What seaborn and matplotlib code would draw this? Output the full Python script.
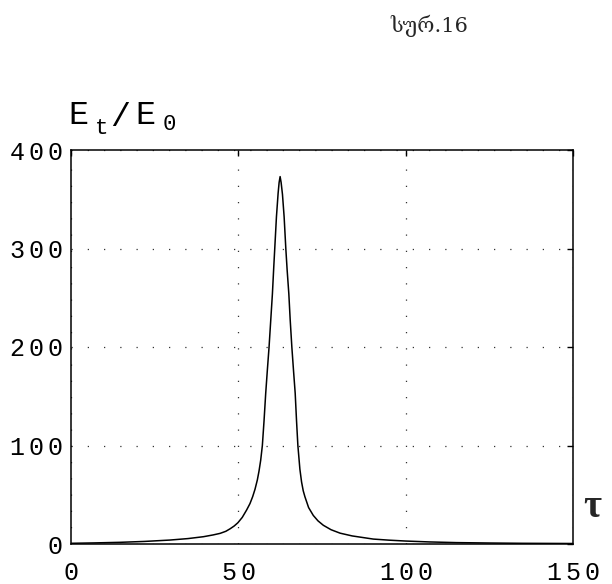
import matplotlib
matplotlib.use("Agg")
import matplotlib.pyplot as plt
import seaborn as sns
import pandas as pd

# Energy ratio E_t/E_0 versus dimensionless time tau
tau = [0, 7, 14.7, 22, 29.6, 35, 39.6, 42.5, 44.6, 46.3, 47.6, 48.8, 49.9,
       51.2, 52.5, 53.5, 54.3, 55.0, 55.7, 56.2, 56.7, 57.2, 57.7, 58.2,
       58.7, 59.2, 59.7, 60.2, 60.6, 60.9, 61.4, 61.9, 62.2, 62.5,
       62.8, 63.2, 63.7, 64.2, 64.6, 65.1, 65.5, 66.0, 66.5, 67.0, 67.4,
       67.8, 68.4, 68.9, 69.4, 69.9, 71.0, 72.4, 73.8, 75.4, 77.7, 80.4,
       84, 90.3, 95, 100, 107, 115.2, 125, 135, 150]
ratio = [0.7, 1.1, 1.7, 2.6, 4.0, 5.5, 7.4, 9.2, 10.8, 12.9, 15.5, 18.3, 21.6,
         27, 34.5, 41, 48, 55.5, 65, 74, 85, 100, 125, 153,
         177, 200, 227, 254, 281, 300, 332, 356, 367, 373,
         367, 355, 332, 300, 278, 254, 228, 200, 176, 153, 125,
         100, 76, 63, 54, 48, 37, 29, 23.5, 19, 14.5, 11,
         8.2, 5, 3.9, 3, 2.1, 1.4, 1.0, 0.7, 0.5]

xticks = [0, 50, 100, 150]
yticks = [0, 100, 200, 300, 400]
xtick_labels = ["0", "50", "100", "150"]
ytick_labels = ["0", "100", "200", "300", "400"]

df = pd.DataFrame({"tau": tau, "ratio": ratio})

sns.set_style("white")
plt.rcParams["font.family"] = ["Liberation Mono", "DejaVu Sans Mono"]
plt.rcParams["mathtext.fontset"] = "custom"
plt.rcParams["mathtext.tt"] = "Liberation Mono"
plt.rcParams["mathtext.rm"] = "Liberation Mono"


def spaced(s):
    """Typewriter text with a little extra tracking between characters."""
    return "$" + r"\,".join(r"\mathtt{%s}" % c for c in s) + "$"


W, H = 612, 584
fig = plt.figure(figsize=(W / 100, H / 100), dpi=100)
ax = fig.add_axes([70.7 / W, 40 / H, (573.3 - 70.7) / W, (544 - 150) / H])

sns.lineplot(data=df, x="tau", y="ratio", ax=ax, color="black",
             linewidth=1.1, sort=False)

ax.set_xlim(0, 150)
ax.set_ylim(0, 400)
ax.set_xticks(xticks)
ax.set_xticklabels([spaced(t) for t in xtick_labels])
ax.set_yticks(yticks)
ax.set_yticklabels([spaced(t) for t in ytick_labels])
ax.set_xlabel("")
ax.set_ylabel("")

ax.tick_params(axis="both", which="major", direction="in", length=4,
               width=1, colors="black", labelsize=18,
               top=True, right=True)
ax.tick_params(axis="x", pad=12)
ax.tick_params(axis="y", pad=6)

for s in ax.spines.values():
    s.set_visible(True)
    s.set_color("black")
    s.set_linewidth(1.1)

ax.grid(True, color="#333333", linewidth=0.9, linestyle=(0, (1, 12)))
ax.set_axisbelow(True)


def px(x, y):
    return x / W, 1 - y / H


# Vertical axis caption E_t / E_0
cap = dict(ha="center", va="baseline", color="black")
fig.text(*px(78, 124.5), "E", fontsize=24, **cap)
fig.text(*px(101.5, 134), "t", fontsize=16, **cap)
fig.text(*px(120.5, 126), "/", fontsize=24, **cap)
fig.text(*px(145, 124.5), "E", fontsize=24, **cap)
fig.text(*px(169, 130), "0", fontsize=16, **cap)

# Horizontal axis caption
fig.text(*px(592, 517), "τ", fontsize=28, fontweight="bold",
         family=["Liberation Serif", "DejaVu Serif"],
         ha="center", va="baseline")

# Figure number
fig.text(*px(429, 32), "სურ.16", fontsize=15,
         family=["DejaVu Serif", "DejaVu Sans"], ha="center", va="baseline")

fig.savefig("out.png", dpi=100, facecolor="white")
